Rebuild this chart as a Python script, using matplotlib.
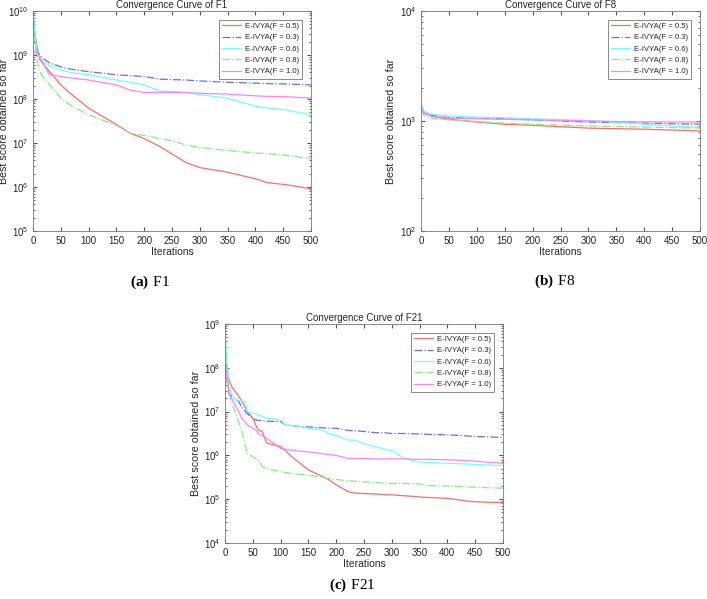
import numpy as np
import matplotlib.pyplot as plt

plt.rcParams['font.family'] = ['Liberation Sans', 'DejaVu Sans']
plt.rcParams['mathtext.fontset'] = 'custom'
plt.rcParams['mathtext.rm'] = 'Liberation Serif'
plt.rcParams['mathtext.bf'] = 'Liberation Serif:bold'

labels = ['E-IVYA(F = 0.5)', 'E-IVYA(F = 0.3)', 'E-IVYA(F = 0.6)',
          'E-IVYA(F = 0.8)', 'E-IVYA(F = 1.0)']
colors = ['#ff6b6b', '#6b6bff', '#70ffff', '#80f080', '#ff80ff']
styles = ['-', '-.', '-', '-.', '-']

# F1 (log10 of best score)
f1_it = [1, 7, 12, 18, 30, 50, 67, 100, 150, 175, 200, 228, 250, 276, 300,
         348, 402, 420, 456, 500]
f1 = {
    'F = 0.5': [9.7, 9.2, 8.9, 8.8, 8.62, 8.32, 8.13, 7.79, 7.42, 7.22, 7.1,
                6.92, 6.75, 6.55, 6.44, 6.34, 6.18, 6.1, 6.05, 5.96],
    'F = 0.3': [9.76, 9.08, 9.0, 8.92, 8.82, 8.73, 8.68, 8.62, 8.55, 8.53, 8.51,
                8.45, 8.44, 8.43, 8.41, 8.38, 8.36, 8.35, 8.34, 8.32],
    'F = 0.6': [9.83, 9.04, 8.95, 8.85, 8.75, 8.66, 8.6, 8.55, 8.43, 8.38, 8.32,
                8.18, 8.17, 8.15, 8.1, 8.02, 7.83, 7.8, 7.75, 7.64],
    'F = 0.8': [9.5, 8.9, 8.62, 8.5, 8.32, 8.02, 7.86, 7.64, 7.4, 7.22, 7.17,
                7.1, 7.05, 6.95, 6.9, 6.83, 6.77, 6.76, 6.72, 6.64],
    'F = 1.0': [9.1, 9.0, 8.95, 8.81, 8.55, 8.51, 8.48, 8.43, 8.32, 8.2, 8.15,
                8.15, 8.15, 8.14, 8.13, 8.11, 8.07, 8.06, 8.05, 8.02],
}

# F8
f8_it = [1, 5, 20, 50, 100, 150, 200, 300, 350, 400, 500]
f8 = {
    'F = 0.5': [3.13, 3.07, 3.04, 3.015, 2.99, 2.97, 2.96, 2.935, 2.93, 2.925, 2.91],
    'F = 0.3': [3.14, 3.08, 3.05, 3.03, 3.025, 3.02, 3.01, 2.99, 2.985, 2.98, 2.97],
    'F = 0.6': [3.15, 3.09, 3.06, 3.045, 3.035, 3.03, 3.02, 3.005, 2.99, 2.97, 2.94],
    'F = 0.8': [3.1, 3.05, 3.02, 3.01, 2.995, 2.98, 2.97, 2.955, 2.95, 2.945, 2.935],
    'F = 1.0': [3.12, 3.07, 3.04, 3.025, 3.02, 3.015, 3.01, 3.0, 2.995, 2.993, 2.99],
}

# F21
f21_it = [1, 7, 12, 19, 25, 30, 37, 40, 50, 55, 60, 67, 75, 100, 108, 120, 132,
          150, 175, 186, 200, 222, 234, 246, 270, 294, 300, 320, 345, 350, 365,
          400, 440, 455, 500]
f21 = {
    'F = 0.5': [8.1, 7.75, 7.57, 7.45, 7.34, 7.25, 7.08, 7.0, 6.85, 6.7, 6.58,
                6.55, 6.28, 6.2, 6.12, 5.97, 5.85, 5.67, 5.52, 5.45, 5.33, 5.17,
                5.14, 5.13, 5.12, 5.1, 5.1, 5.08, 5.06, 5.05, 5.04, 5.02, 4.95,
                4.94, 4.92],
    'F = 0.3': [8.1, 7.42, 7.35, 7.28, 7.23, 7.1, 7.0, 6.95, 6.85, 6.81, 6.8,
                6.8, 6.78, 6.77, 6.7, 6.68, 6.66, 6.65, 6.63, 6.62, 6.62, 6.57,
                6.56, 6.55, 6.52, 6.51, 6.5, 6.5, 6.49, 6.49, 6.48, 6.47, 6.44,
                6.43, 6.41],
    'F = 0.6': [8.63, 7.57, 7.4, 7.27, 7.25, 7.24, 7.22, 7.0, 6.96, 6.95, 6.93,
                6.89, 6.85, 6.81, 6.7, 6.68, 6.66, 6.62, 6.58, 6.5, 6.45, 6.35,
                6.35, 6.28, 6.2, 6.12, 6.12, 5.95, 5.86, 5.85, 5.84, 5.82, 5.8,
                5.79, 5.77],
    'F = 0.8': [8.33, 7.45, 7.2, 6.96, 6.75, 6.58, 6.2, 6.05, 5.97, 5.93, 5.9,
                5.74, 5.7, 5.63, 5.61, 5.59, 5.57, 5.55, 5.5, 5.47, 5.45, 5.42,
                5.41, 5.4, 5.38, 5.36, 5.36, 5.36, 5.35, 5.35, 5.31, 5.3, 5.28,
                5.27, 5.25],
    'F = 1.0': [7.95, 7.42, 7.3, 7.12, 7.0, 6.85, 6.75, 6.7, 6.62, 6.58, 6.5,
                6.45, 6.39, 6.16, 6.14, 6.12, 6.1, 6.08, 6.04, 6.02, 6.0, 5.93,
                5.93, 5.93, 5.92, 5.92, 5.92, 5.92, 5.91, 5.91, 5.91, 5.9, 5.88,
                5.86, 5.82],
}

panels = [
    ('F1', f1_it, f1, (1e5, 1e10), [0.0467, 0.6144, 0.3932, 0.3673]),
    ('F8', f8_it, f8, (1e2, 1e4), [0.5955, 0.6144, 0.3946, 0.3673]),
    ('F21', f21_it, f21, (1e4, 1e9), [0.3182, 0.0935, 0.3932, 0.3656]),
]

fig = plt.figure(figsize=(7.07, 5.99), dpi=100)
txt = '#262626'
for name, it, data, ylim, rect in panels:
    ax = fig.add_axes(rect)
    for (key, vals), c, ls, lab in zip(data.items(), colors, styles, labels):
        ax.plot(it, 10 ** np.array(vals), color=c, ls=ls, lw=0.9, label=lab)
    ax.set_yscale('log')
    ax.set_ylim(*ylim)
    ax.set_xlim(0, 500)
    ax.set_xticks(np.arange(0, 501, 50))
    ax.tick_params(which='both', direction='in', top=True, right=True,
                   labelsize=7, colors='#555555', labelcolor=txt)
    ax.tick_params(which='major', length=3)
    ax.tick_params(which='minor', length=1.5)
    for s in ax.spines.values():
        s.set_color('#777777')
        s.set_linewidth(0.6)
    ax.set_title('Convergence Curve of ' + name, fontsize=7, color=txt, pad=2)
    ax.set_xlabel('Iterations', fontsize=7.5, color=txt, labelpad=1)
    ax.set_ylabel('Best score obtained so far', fontsize=7.7, color=txt)
    ax.yaxis.set_label_coords(-0.088, 0.5)
    leg = ax.legend(loc='upper right', fontsize=5.6, frameon=True, fancybox=False,
                    handlelength=2.5, borderpad=0.4, labelspacing=0.5,
                    handletextpad=0.5, borderaxespad=1.1)
    leg.get_frame().set_edgecolor('#555555')
    leg.get_frame().set_linewidth(0.6)
    for t in leg.get_texts():
        t.set_color(txt)

fig.text(150 / 707, 1 - 282 / 599, r'$\mathbf{(a)}\ \mathrm{F1}$', fontsize=11,
         ha='center', va='center')
fig.text(555 / 707, 1 - 281 / 599, r'$\mathbf{(b)}\ \mathrm{F8}$', fontsize=11,
         ha='center', va='center')
fig.text(352 / 707, 1 - 585 / 599, r'$\mathbf{(c)}\ \mathrm{F21}$', fontsize=11,
         ha='center', va='center')

fig.savefig('out.png', dpi=100)
